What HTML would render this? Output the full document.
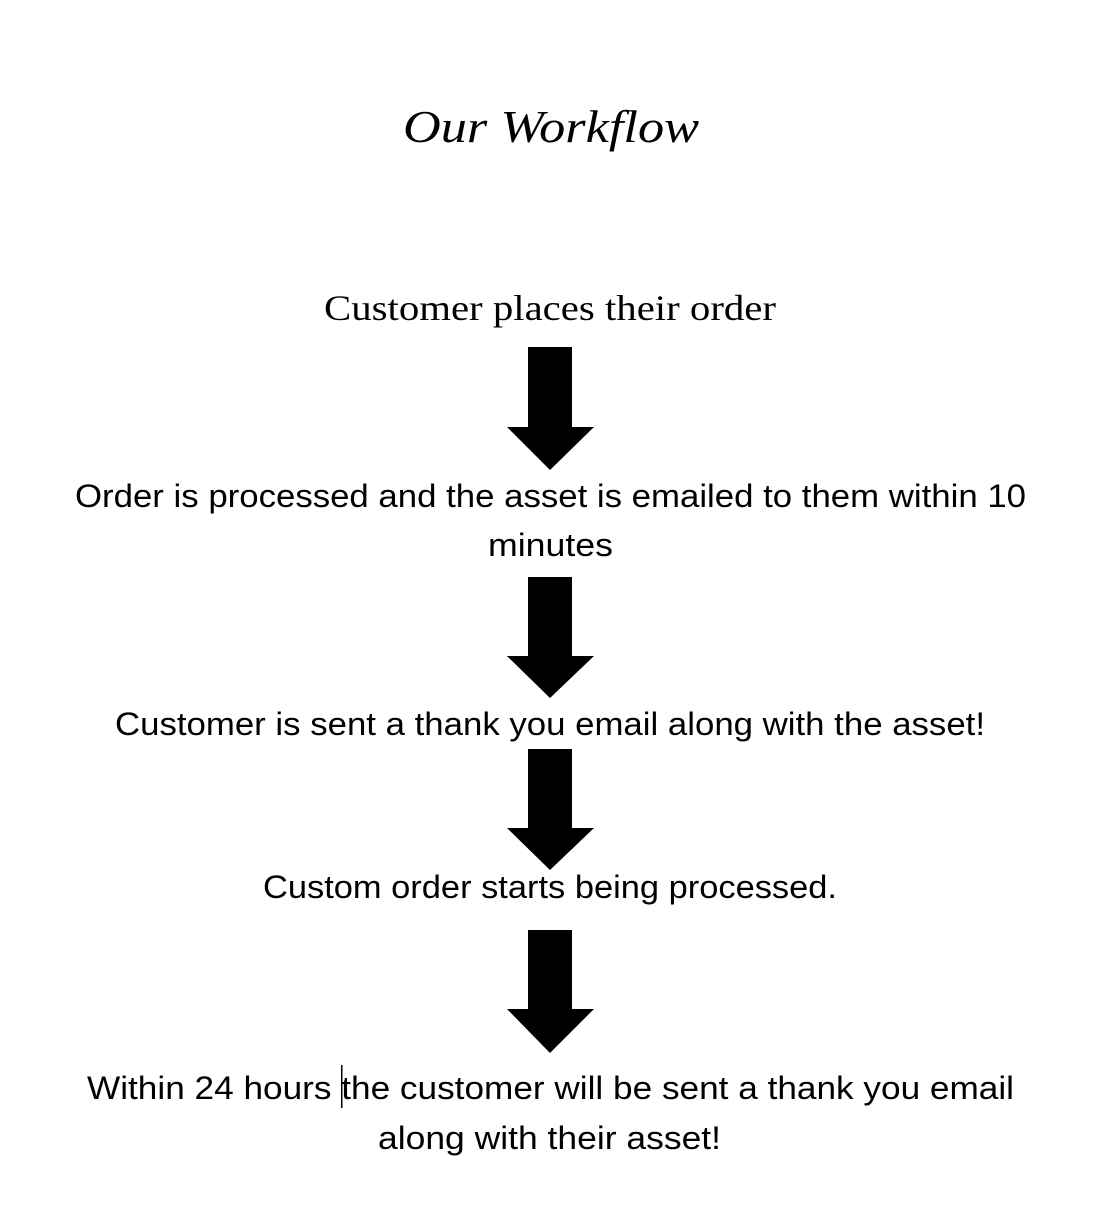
<!DOCTYPE html>
<html><head><meta charset="utf-8"><style>html,body{margin:0;padding:0;background:#fff}svg{display:block}</style></head>
<body>
<svg width="1102" height="1215" viewBox="0 0 1102 1215" xmlns="http://www.w3.org/2000/svg">
<rect width="1102" height="1215" fill="#fff"/>
<g fill="#000">
<text x="403" y="142" font-family="Liberation Serif, serif" font-style="italic" font-size="46" textLength="296" lengthAdjust="spacingAndGlyphs">Our Workflow</text>
<text x="324" y="320" font-family="Liberation Serif, serif" font-size="36" textLength="452" lengthAdjust="spacingAndGlyphs">Customer places their order</text>
<g font-family="Liberation Sans, sans-serif" font-size="32">
<text x="75" y="507" textLength="951" lengthAdjust="spacingAndGlyphs">Order is processed and the asset is emailed to them within 10</text>
<text x="488" y="556" textLength="125" lengthAdjust="spacingAndGlyphs">minutes</text>
<text x="115" y="735" textLength="870" lengthAdjust="spacingAndGlyphs">Customer is sent a thank you email along with the asset!</text>
<text x="263" y="898" textLength="574" lengthAdjust="spacingAndGlyphs">Custom order starts being processed.</text>
<text x="87" y="1099" textLength="927" lengthAdjust="spacingAndGlyphs">Within 24 hours the customer will be sent a thank you email</text>
<text x="378" y="1149" textLength="343" lengthAdjust="spacingAndGlyphs">along with their asset!</text>
</g>
<rect x="341" y="1065" width="1.5" height="43"/>
<polygon points="528,347 572,347 572,427 594,427 550,470 507,427 528,427"/>
<polygon points="528,577 572,577 572,656 594,656 550,698 507,656 528,656"/>
<polygon points="528,749 572,749 572,828 594,828 550,870 507,828 528,828"/>
<polygon points="528,930 572,930 572,1009 594,1009 550,1053 507,1009 528,1009"/>
</g>
</svg>
</body></html>
